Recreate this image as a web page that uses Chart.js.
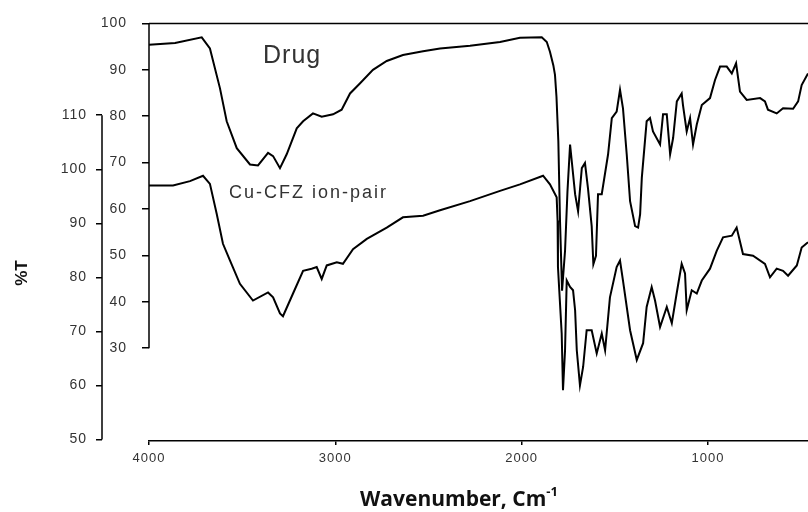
<!DOCTYPE html>
<html>
<head>
<meta charset="utf-8">
<script src="https://cdn.jsdelivr.net/npm/chart.js@4.4.1/dist/chart.umd.min.js"></script>
<style>
  html, body { margin: 0; padding: 0; background: #fff; overflow: hidden; }
  canvas { display: block; }
</style>
</head>
<body>
<canvas id="ftir" width="808" height="512"></canvas>
<script>
// wavenumber (cm-1) and %T
const drugWavenumber = [4000, 3860, 3717, 3673, 3619, 3583, 3529, 3458, 3415, 3361, 3334, 3297, 3261, 3207, 3173, 3120, 3073, 3012, 2966, 2921, 2867, 2798, 2724, 2637, 2529, 2438, 2277, 2116, 2009, 1892, 1865, 1848, 1830, 1821, 1813, 1803, 1794, 1783, 1767, 1754, 1740, 1713, 1697, 1677, 1660, 1644, 1624, 1615, 1601, 1590, 1570, 1536, 1516, 1490, 1472, 1456, 1436, 1418, 1391, 1375, 1364, 1355, 1329, 1311, 1295, 1257, 1241, 1221, 1203, 1187, 1167, 1141, 1134, 1114, 1096, 1080, 1060, 1033, 989, 962, 935, 899, 872, 849, 828, 792, 720, 694, 678, 631, 597, 543, 516, 497, 463];
const drugT = [95.4, 95.8, 97.0, 94.6, 86.0, 78.9, 73.1, 69.6, 69.4, 72.1, 71.4, 68.8, 71.8, 77.4, 78.9, 80.6, 79.9, 80.4, 81.4, 84.9, 87.1, 90.0, 91.9, 93.2, 94.0, 94.6, 95.2, 96.0, 96.9, 97.0, 96.0, 93.9, 91.0, 88.9, 84.2, 74.6, 57.4, 42.4, 51.0, 63.8, 73.9, 63.2, 59.5, 68.8, 69.9, 64.5, 56.3, 48.1, 49.9, 63.2, 63.2, 71.8, 79.6, 81.0, 85.7, 81.7, 71.8, 61.7, 56.3, 56.0, 58.9, 66.7, 78.9, 79.6, 76.7, 73.9, 80.4, 80.4, 71.8, 75.3, 83.2, 84.9, 82.4, 76.7, 79.6, 73.9, 78.2, 82.4, 83.9, 87.8, 90.7, 90.7, 89.2, 91.4, 85.3, 83.5, 83.9, 83.2, 81.4, 80.6, 81.7, 81.6, 83.2, 86.7, 89.2];

const cuWavenumber = [4000, 3871, 3780, 3710, 3673, 3637, 3603, 3565, 3512, 3442, 3361, 3334, 3297, 3281, 3227, 3173, 3127, 3100, 3073, 3046, 2992, 2959, 2905, 2831, 2724, 2637, 2529, 2438, 2277, 2116, 2009, 1885, 1848, 1812, 1807, 1805, 1785, 1778, 1767, 1758, 1740, 1724, 1713, 1704, 1687, 1670, 1651, 1624, 1597, 1570, 1552, 1526, 1490, 1472, 1456, 1418, 1382, 1348, 1329, 1302, 1284, 1257, 1221, 1194, 1168, 1141, 1123, 1114, 1087, 1060, 1033, 989, 953, 919, 872, 846, 812, 758, 694, 667, 631, 597, 570, 523, 497, 463];
const cuT = [97.0, 97.0, 97.8, 98.8, 97.3, 91.8, 86.2, 83.1, 78.8, 75.7, 77.2, 76.3, 73.3, 72.8, 77.0, 81.2, 81.6, 81.9, 79.7, 82.2, 82.8, 82.5, 85.2, 87.1, 89.2, 91.1, 91.4, 92.4, 94.1, 96.0, 97.2, 98.8, 97.2, 94.8, 90.5, 81.9, 69.6, 59.1, 66.5, 79.4, 78.2, 77.6, 73.9, 66.5, 60.0, 63.4, 70.2, 70.2, 65.9, 69.6, 66.5, 76.3, 81.9, 83.1, 79.4, 70.2, 64.7, 67.8, 74.5, 78.2, 75.7, 70.8, 74.5, 71.5, 77.0, 82.5, 80.7, 73.9, 77.6, 77.0, 79.4, 81.6, 84.9, 87.4, 87.7, 89.2, 84.3, 84.0, 82.5, 80.0, 81.6, 81.2, 80.3, 82.2, 85.5, 86.5];

const xTicks = [4000, 3000, 2000, 1000];
const drugTicks = [30, 40, 50, 60, 70, 80, 90, 100];
const cuTicks = [50, 60, 70, 80, 90, 100, 110];

const toPoints = (xs, ys) => xs.map((x, i) => ({ x: x, y: ys[i] }));
const tickColor = '#333';
const tickFont = { family: 'Liberation Sans, Arial, sans-serif', size: 14 };

const spacing = {
    id: 'spacing',
    beforeDraw(chart) {
        chart.ctx.letterSpacing = '1px';
    }
};

// partial axis lines, frame top and the text labels
const extras = {
    id: 'extras',
    afterDraw(chart) {
        const c = chart.ctx;
        const a = chart.chartArea;
        const y = chart.scales.y, y2 = chart.scales.y2;
        c.save();
        c.strokeStyle = '#000';
        c.lineWidth = 1.5;
        c.beginPath();
        c.moveTo(a.left, a.top);
        c.lineTo(a.right, a.top);
        c.moveTo(y.right, y.getPixelForValue(100));
        c.lineTo(y.right, y.getPixelForValue(30));
        c.moveTo(y2.right, y2.getPixelForValue(110));
        c.lineTo(y2.right, y2.getPixelForValue(50));
        c.stroke();

        c.fillStyle = '#333';
        c.textBaseline = 'alphabetic';
        c.textAlign = 'left';
        c.letterSpacing = '1px';
        c.font = '25px "Liberation Sans", Arial, sans-serif';
        c.fillText('Drug', 263, 63);
        c.letterSpacing = '2px';
        c.font = '18px "Liberation Sans", Arial, sans-serif';
        c.fillText('Cu-CFZ ion-pair', 229, 198);

        c.letterSpacing = '0px';
        c.fillStyle = '#111';
        c.font = 'bold 21px "Open Sans", sans-serif';
        const main = 'Wavenumber, Cm';
        const w1 = c.measureText(main).width;
        c.font = 'bold 13px "Open Sans", sans-serif';
        const w2 = c.measureText('-1').width;
        const x0 = 459 - (w1 + w2) / 2;
        c.font = 'bold 21px "Open Sans", sans-serif';
        c.fillText(main, x0, 506);
        c.font = 'bold 13px "Open Sans", sans-serif';
        c.fillText('-1', x0 + w1, 496);

        c.translate(22, 273);
        c.rotate(-Math.PI / 2);
        c.textAlign = 'center';
        c.textBaseline = 'middle';
        c.font = 'bold 17px "Liberation Sans", Arial, sans-serif';
        c.fillText('%T', 0, 0);
        c.restore();
    }
};

new Chart(document.getElementById('ftir'), {
    type: 'line',
    data: {
        datasets: [
            {
                label: 'Drug',
                data: toPoints(drugWavenumber, drugT),
                yAxisID: 'y',
                borderColor: '#000',
                borderWidth: 2,
                pointRadius: 0,
                tension: 0
            },
            {
                label: 'Cu-CFZ ion-pair',
                data: toPoints(cuWavenumber, cuT),
                yAxisID: 'y2',
                borderColor: '#000',
                borderWidth: 2,
                pointRadius: 0,
                tension: 0
            }
        ]
    },
    options: {
        responsive: false,
        animation: false,
        layout: { padding: { top: 22, right: 0, left: 0, bottom: 0 } },
        plugins: { legend: { display: false }, tooltip: { enabled: false } },
        scales: {
            x: {
                type: 'linear',
                reverse: true,
                min: 463,
                max: 4000,
                afterBuildTicks: s => { s.ticks = xTicks.map(v => ({ value: v })); },
                afterFit: s => { s.height = 71; },
                grid: { drawOnChartArea: false, tickLength: 4, color: '#000', lineWidth: 1.5 },
                border: { color: '#000', width: 1.5 },
                ticks: {
                    color: tickColor,
                    font: { family: tickFont.family, size: 13 },
                    padding: 6,
                    maxRotation: 0,
                    autoSkip: false,
                    callback: v => String(v)
                }
            },
            y: {
                position: 'left',
                weight: 0,
                min: 10,
                max: 100,
                afterBuildTicks: s => { s.ticks = drugTicks.map(v => ({ value: v })); },
                afterFit: s => { s.width = 47; },
                grid: { drawOnChartArea: false, tickLength: 7, color: '#000', lineWidth: 1.5 },
                border: { display: false },
                ticks: { color: tickColor, font: tickFont, padding: 15, autoSkip: false }
            },
            y2: {
                position: 'left',
                weight: 1,
                min: 49.7,
                max: 127,
                afterBuildTicks: s => { s.ticks = cuTicks.map(v => ({ value: v })); },
                afterFit: s => { s.width = 102; },
                grid: { drawOnChartArea: false, tickLength: 6, color: '#000', lineWidth: 1.5 },
                border: { display: false },
                ticks: { color: tickColor, font: tickFont, padding: 9, autoSkip: false }
            }
        }
    },
    plugins: [spacing, extras]
});
</script>
</body>
</html>
